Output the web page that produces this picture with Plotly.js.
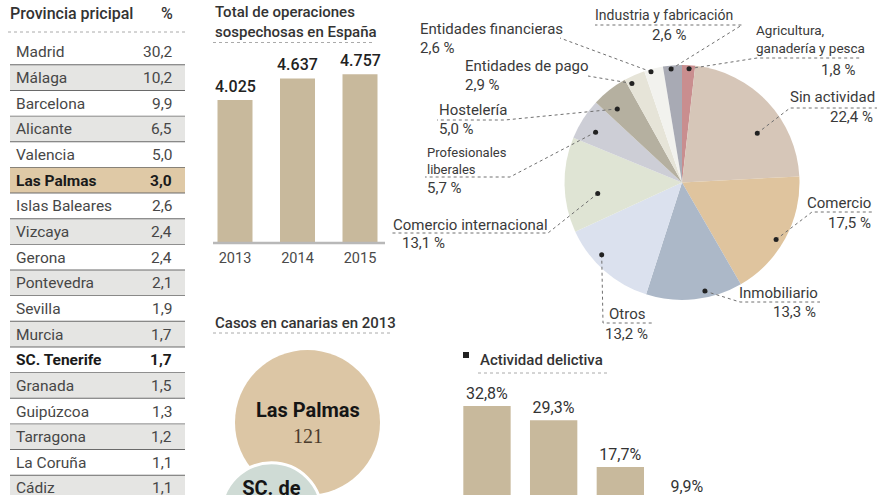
<!DOCTYPE html>
<html><head><meta charset="utf-8">
<script src="https://cdn.plot.ly/plotly-3.0.1.min.js"></script>
<style>html,body{margin:0;padding:0;background:#fff;overflow:hidden}</style>
</head><body><div id="chart" style="width:880px;height:495px"></div>
<script>
// ---------------- data ----------------
const provincias = ["Madrid","Málaga","Barcelona","Alicante","Valencia","Las Palmas","Islas Baleares","Vizcaya","Gerona","Pontevedra","Sevilla","Murcia","SC. Tenerife","Granada","Guipúzcoa","Tarragona","La Coruña","Cádiz"];
const provinciaPct = [30.2,10.2,9.9,6.5,5.0,3.0,2.6,2.4,2.4,2.1,1.9,1.7,1.7,1.5,1.3,1.2,1.1,1.1];
const years = ["2013","2014","2015"];
const operaciones = [4025,4637,4757];
const sectores = ["Agricultura, ganadería y pesca","Sin actividad","Comercio","Inmobiliario","Otros","Comercio internacional","Profesionales liberales","Hostelería","Entidades de pago","Entidades financieras","Industria y fabricación"];
const sectorPct = [1.8,22.4,17.5,13.3,13.2,13.1,5.7,5.0,2.9,2.6,2.6];
const canarias = ["Las Palmas","SC. de Tenerife"];
const casos2013 = [121,58];
const actividadCat = ["Categoría 1","Categoría 2","Categoría 3","Categoría 4"];
const actividadPct = [32.8,29.3,17.7,9.9];

// ---------------- helpers / styles ----------------
const FONT = 'Roboto, "Open Sans", "DejaVu Sans", sans-serif';
const W = 880, H = 495;
const px = x => x / W;
const py = y => 1 - y / H;
const fmt1 = v => v.toFixed(1).replace('.', ',');
const fmtK = v => String(v).replace(/\B(?=(\d{3})+(?!\d))/g, '.');
const BAR = '#c8b99c';
const shapes = [], annotations = [], traces = [];

function ann(text, x, y, opt, font) {
  annotations.push(Object.assign({text: text, x: px(x), y: py(y), xref: 'paper', yref: 'paper',
    showarrow: false, xanchor: 'left', yanchor: 'middle',
    font: Object.assign({family: FONT, size: 15, color: '#3a3a3a'}, font || {})}, opt || {}));
}
function dotted(points, color) {
  shapes.push({type: 'path', xref: 'paper', yref: 'paper', layer: 'above',
    path: 'M' + points.map(p => px(p[0]) + ',' + py(p[1])).join('L'),
    line: {color: color || '#808080', width: 1, dash: 'dot'}});
}

// ---------------- table ----------------
const ROW_TOP = 39.6, ROW_H = 25.65;
ann('Provincia pricipal', 8, 14, {}, {size: 16, weight: 500, color: '#333'});
ann('%', 167, 14, {xanchor: 'center'}, {size: 16, weight: 500, color: '#333'});
dotted([[8, 32], [185, 32]], '#aaa');
provincias.forEach((name, i) => {
  const top = ROW_TOP + i * ROW_H, mid = top + ROW_H / 2;
  const hl = name === 'Las Palmas';
  const bold = hl || name === 'SC. Tenerife';
  const fill = hl ? '#dfc9a6' : (i % 2 ? '#e5e5e3' : '#ffffff');
  shapes.push({type: 'rect', xref: 'paper', yref: 'paper', layer: 'below',
    x0: px(10), x1: px(185), y0: py(top + ROW_H), y1: py(top), fillcolor: fill, line: {width: 0}});
  shapes.push({type: 'line', xref: 'paper', yref: 'paper', layer: 'below',
    x0: px(10), x1: px(185), y0: py(top + ROW_H), y1: py(top + ROW_H), line: {color: '#6a6a6a', width: 1.8}});
  const f = bold ? {weight: 'bold', color: '#1a1a1a'} : {color: '#474747'};
  ann(name, 14, mid, {}, Object.assign({size: 15.5}, f));
  ann(fmt1(provinciaPct[i]), 174, mid, {xanchor: 'right'}, Object.assign({size: 15.5}, f));
});

// ---------------- bar chart: total operaciones ----------------
const BASE1 = 243, TOP1 = 50, SCALE1 = 0.0355; // px per operation
ann('Total de operaciones<br>sospechosas en España', 213, 22, {align: 'left'}, {size: 15, weight: 500, color: '#333'});
dotted([[213, 42.5], [375, 42.5]], '#aaa');
traces.push({type: 'bar', x: years, y: operaciones, xaxis: 'x', yaxis: 'y', width: 0.56,
  marker: {color: BAR}, hoverinfo: 'skip', cliponaxis: false});
years.forEach((yr, i) => annotations.push({text: fmtK(operaciones[i]), x: i, y: operaciones[i],
  xref: 'x', yref: 'y', showarrow: false, yanchor: 'bottom', yshift: 2,
  font: {family: FONT, size: 16, weight: 500, color: '#222'}}));
shapes.push({type: 'line', xref: 'paper', yref: 'paper', x0: px(213), x1: px(385), y0: py(BASE1), y1: py(BASE1),
  line: {color: '#b8b8b8', width: 2.5}, layer: 'above'});

// ---------------- pie ----------------
const PIE_C = [682, 182.5], PIE_R = 117.5;
const pieColors = ['#c98e8f','#d6c6b8','#dfc49e','#acb8c8','#dbe1ee','#dfe4d4','#cdced6','#b5b0a0','#e6e4d8','#f2f2ee','#a8aab4'];
traces.push({type: 'pie', labels: sectores, values: sectorPct, sort: false, direction: 'clockwise', rotation: 0,
  marker: {colors: pieColors, line: {width: 0}}, textinfo: 'none', hoverinfo: 'label+percent', showlegend: false,
  domain: {x: [px(PIE_C[0] - PIE_R), px(PIE_C[0] + PIE_R)], y: [py(PIE_C[1] + PIE_R), py(PIE_C[1] - PIE_R)]}});

// label layout (positions in px), one per sector in order
const pieLabels = [
  {nx: 754, ny: 39, ns: 13.5, na: 'left', brk: true, vx: 858, vy: 70, va: 'right', nudge: 0.3, r: 114, path: [[757, 58], [862, 58]]},
  {nx: 877, ny: 97, na: 'right', vx: 875, vy: 117, va: 'right', nudge: 10, r: 90, path: [[790, 108], [877, 108]]},
  {nx: 873, ny: 203, na: 'right', vx: 873, vy: 223, va: 'right', nudge: 2.7, r: 110, path: [[812, 212], [873, 212]]},
  {nx: 820, ny: 293, na: 'right', vx: 818, vy: 312, va: 'right', nudge: -5.8, r: 111, path: [[740, 302], [820, 302]]},
  {nx: 607, ny: 314, na: 'left', vx: 603, vy: 334, va: 'left', nudge: 6.5, r: 108, path: [[603, 323], [652, 323]]},
  {nx: 391, ny: 225, na: 'left', vx: 400, vy: 243, va: 'left', nudge: -6.3, r: 85, path: [[548, 233], [391, 233]]},
  {nx: 425, ny: 161, ns: 13, na: 'left', brk: true, vx: 425, vy: 188, va: 'left', nudge: -2.4, r: 100, path: [[510, 177], [425, 177]]},
  {nx: 437, ny: 110, na: 'left', vx: 437, vy: 129, va: 'left', nudge: -3.2, r: 98, path: [[505, 120], [437, 120]]},
  {nx: 463, ny: 66, na: 'left', vx: 463, vy: 85, va: 'left', nudge: -2.9, r: 111, path: [[588, 76]]},
  {nx: 418, ny: 29, na: 'left', vx: 418, vy: 48, va: 'left', nudge: -1.6, r: 115, path: [[560, 38]]},
  {nx: 664, ny: 15, ns: 14, na: 'center', vx: 669, vy: 35, va: 'center', nudge: -0.8, r: 114, path: [[742, 25], [595, 25]]}
];
const pieTotal = sectorPct.reduce((a, b) => a + b, 0);
let cum = 0;
sectorPct.forEach((v, i) => {
  const L = pieLabels[i];
  const midDeg = (cum + v / 2) / pieTotal * 360; cum += v;
  const a = (midDeg + L.nudge) * Math.PI / 180;
  const dot = [PIE_C[0] + L.r * Math.sin(a), PIE_C[1] - L.r * Math.cos(a)];
  dotted([dot].concat(L.path), '#707070');
  shapes.push({type: 'circle', xref: 'paper', yref: 'paper', layer: 'above',
    x0: px(dot[0] - 2.5), x1: px(dot[0] + 2.5), y0: py(dot[1] + 2.5), y1: py(dot[1] - 2.5),
    fillcolor: '#222', line: {width: 0}});
  const nm = L.brk ? sectores[i].replace(' ', '<br>') : sectores[i];
  ann(nm, L.nx, L.ny, {xanchor: L.na, align: L.na === 'center' ? 'center' : L.na}, {size: L.ns || 15});
  ann(fmt1(v) + ' %', L.vx, L.vy, {xanchor: L.va}, {size: 15});
});

// ---------------- bubbles: casos en Canarias 2013 ----------------
ann('Casos en canarias en 2013', 213, 323, {}, {size: 15, weight: 500, color: '#333'});
dotted([[213, 333], [393, 333]], '#aaa');
const bubbleX = [307.5, 271.5], bubbleY = [422.5, 513];
const LP_DIAM = 145; // px diameter of the Las Palmas bubble
traces.push({type: 'scatter', mode: 'markers', x: bubbleX, y: bubbleY, xaxis: 'x3', yaxis: 'y3',
  marker: {size: casos2013, sizemode: 'area', sizeref: 2 * casos2013[0] / (LP_DIAM * LP_DIAM),
    color: ['#dcc6a5', '#cfdbd5'], line: {color: '#ffffff', width: [0, 3]}, opacity: 1},
  text: canarias, hoverinfo: 'text', cliponaxis: true, showlegend: false});
canarias.forEach((c, i) => ann(
  '<b>' + c.replace(' de ', ' de<br>') + '</b><br><span style="font-family:\'Liberation Serif\',serif;font-weight:normal;color:#4a3b2c;font-size:20px">' + casos2013[i] + '</span>',
  bubbleX[i], bubbleY[i], {xanchor: 'center'}, {size: 20, color: '#151515'}));

// ---------------- bar chart: actividad delictiva ----------------
const BASE2 = 538.5, SCALE2 = 4.04, TOP2 = 380;
shapes.push({type: 'rect', xref: 'paper', yref: 'paper', x0: px(463), x1: px(469), y0: py(358), y1: py(352), fillcolor: '#222', line: {width: 0}});
ann('Actividad delictiva', 478, 360, {}, {size: 15, weight: 500, color: '#333'});
dotted([[478, 373], [607, 373]], '#aaa');
traces.push({type: 'bar', x: actividadCat, y: actividadPct, xaxis: 'x2', yaxis: 'y2', width: 0.71,
  marker: {color: BAR}, hoverinfo: 'skip', cliponaxis: true,
  texttemplate: '%{y:.1f}%', textposition: 'outside', constraintext: 'none',
  textfont: {family: FONT, size: 16, color: '#333'}});

const layout = {
  width: W, height: H, margin: {l: 0, r: 0, t: 0, b: 0}, paper_bgcolor: '#fff', plot_bgcolor: 'rgba(0,0,0,0)',
  showlegend: false, separators: ',.', font: {family: FONT},
  xaxis: {domain: [px(235 - 31.25), px(360 + 31.25)], type: 'category', range: [-0.5, 2.5], anchor: 'y', showgrid: false, zeroline: false,
    showline: false, ticks: '', ticklabelstandoff: 4, tickfont: {family: FONT, size: 14.5, color: '#4a4a4a'}, fixedrange: true},
  yaxis: {domain: [py(BASE1), py(TOP1)], range: [0, (BASE1 - TOP1) / SCALE1], anchor: 'x', visible: false, fixedrange: true},
  xaxis2: {domain: [px(487 - 33.35), px(687 + 33.35)], type: 'category', range: [-0.5, 3.5], anchor: 'y2', visible: false, fixedrange: true},
  yaxis2: {domain: [0, py(TOP2)], range: [(BASE2 - H) / SCALE2, (BASE2 - TOP2) / SCALE2], anchor: 'x2', visible: false, fixedrange: true},
  xaxis3: {domain: [0, 1], range: [0, W], anchor: 'y3', visible: false, fixedrange: true},
  yaxis3: {domain: [0, 1], range: [H, 0], anchor: 'x3', visible: false, fixedrange: true},
  shapes: shapes, annotations: annotations
};
Plotly.newPlot('chart', traces, layout, {displayModeBar: false, staticPlot: true});
</script></body></html>
